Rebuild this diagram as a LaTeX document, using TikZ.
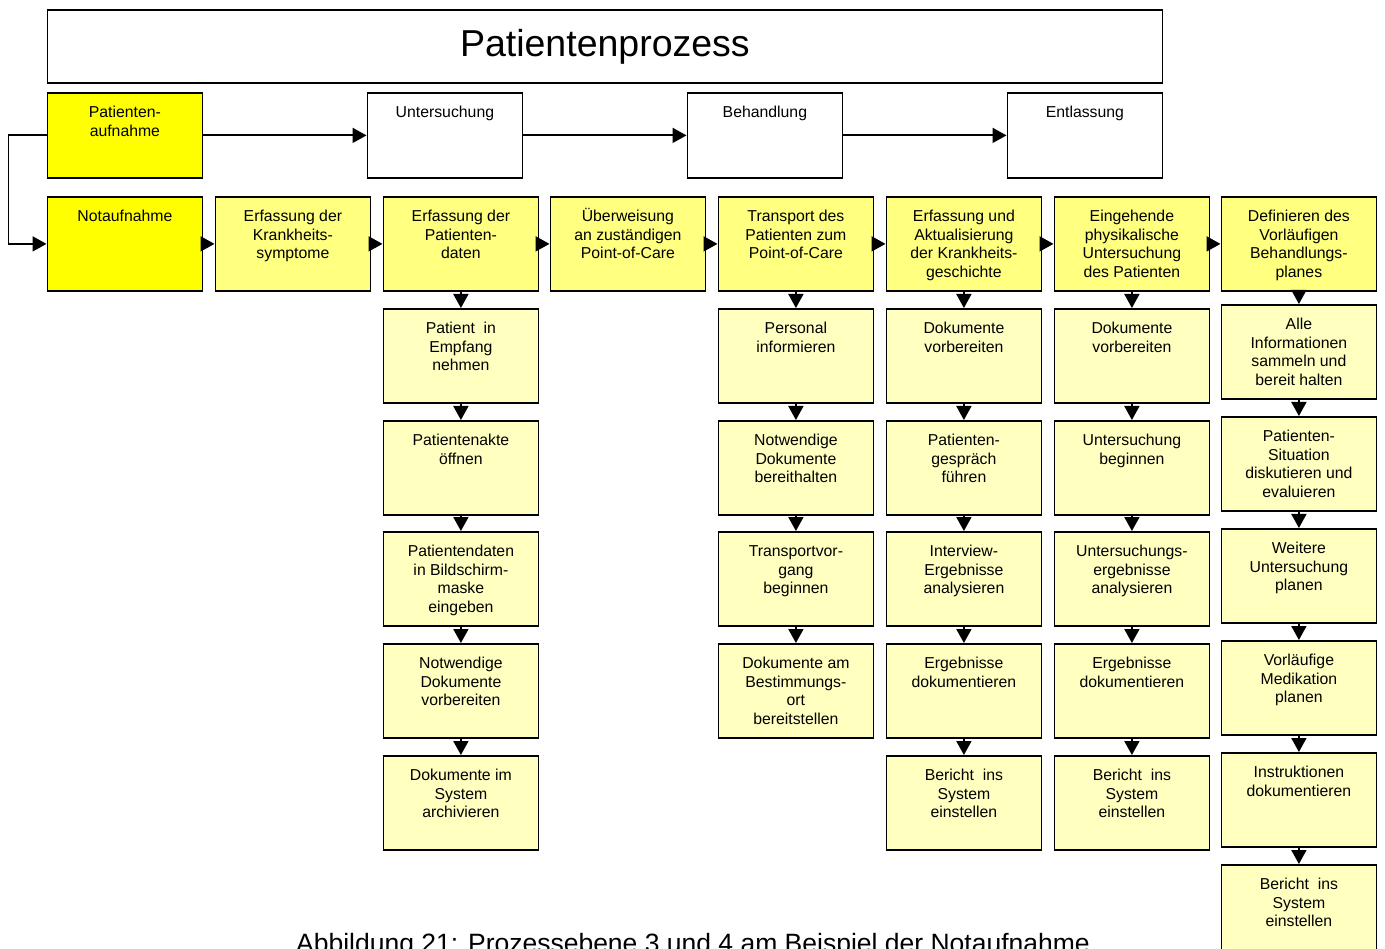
\documentclass[tikz,border=0pt]{standalone}
\usepackage{fontspec}
\setmainfont{Liberation Sans}
\usetikzlibrary{arrows.meta}
\newcommand\bx[2][94]{\parbox[c][#1pt][t]{155pt}{\centering\vspace*{10pt}\rule{0pt}{15pt}#2}}
\definecolor{yA}{RGB}{255,255,0}
\definecolor{yB}{RGB}{255,255,128}
\definecolor{yC}{RGB}{255,255,192}
\begin{document}
\begin{tikzpicture}[x=1pt,y=-1pt,
  box/.style={draw=black, line width=1.8pt, inner sep=0pt, anchor=north west, font=\fontsize{15.8}{18.5}\selectfont},
  head/.style={box, fill=white},
  main/.style={box, fill=yA},
  lvl/.style={box, fill=yB},
  sub/.style={box, fill=yC},
  arr/.style={line width=1.8pt, -{Triangle[length=14pt,width=15pt]}}]
\useasboundingbox (0,0) rectangle (1385,949);
% title
\node[draw=black, line width=1.8pt, anchor=north west, minimum width=1115pt, minimum height=73pt, inner sep=0pt, font=\fontsize{37.5}{40}\selectfont] (title) at (46.5,9) {Patientenprozess};
% row 1
\node[main] (r1a) at (46.5,92) {\bx[85]{Patienten-\\aufnahme}};
\node[head] (r1b) at (366.5,92) {\bx[85]{Untersuchung}};
\node[head] (r1c) at (686.5,92) {\bx[85]{Behandlung}};
\node[head] (r1d) at (1006.5,92) {\bx[85]{Entlassung}};
% row 2
\node[main] (r2a) at (46.5,196) {\bx{Notaufnahme}};
\node[lvl] (r2b) at (214.5,196) {\bx{Erfassung der\\Krankheits-\\symptome}};
\node[lvl] (r2c) at (382.5,196) {\bx{Erfassung der\\Patienten-\\daten}};
\node[lvl] (r2d) at (549.5,196) {\bx{Überweisung\\an zuständigen\\Point-of-Care}};
\node[lvl] (r2e) at (717.5,196) {\bx{Transport des\\Patienten zum\\Point-of-Care}};
\node[lvl] (r2f) at (885.5,196) {\bx{Erfassung und\\Aktualisierung\\der Krankheits-\\geschichte}};
\node[lvl] (r2g) at (1053.5,196) {\bx{Eingehende\\physikalische\\Untersuchung\\des Patienten}};
\node[lvl] (r2h) at (1220.5,196) {\bx{Definieren des\\Vorläufigen\\Behandlungs-\\planes}};
% column 3
\node[sub] (c3a) at (382.5,308) {\bx{Patient\ \ in\\Empfang\\nehmen}};
\node[sub] (c3b) at (382.5,420) {\bx{Patientenakte\\öffnen}};
\node[sub] (c3c) at (382.5,531) {\bx{Patientendaten\\in Bildschirm-\\maske\\eingeben}};
\node[sub] (c3d) at (382.5,643) {\bx{Notwendige\\Dokumente\\vorbereiten}};
\node[sub] (c3e) at (382.5,755) {\bx{Dokumente im\\System\\archivieren}};
% column 5
\node[sub] (c5a) at (717.5,308) {\bx{Personal\\informieren}};
\node[sub] (c5b) at (717.5,420) {\bx{Notwendige\\Dokumente\\bereithalten}};
\node[sub] (c5c) at (717.5,531) {\bx{Transportvor-\\gang\\beginnen}};
\node[sub] (c5d) at (717.5,643) {\bx{Dokumente am\\Bestimmungs-\\ort\\bereitstellen}};
% column 6
\node[sub] (c6a) at (885.5,308) {\bx{Dokumente\\vorbereiten}};
\node[sub] (c6b) at (885.5,420) {\bx{Patienten-\\gespräch\\führen}};
\node[sub] (c6c) at (885.5,531) {\bx{Interview-\\Ergebnisse\\analysieren}};
\node[sub] (c6d) at (885.5,643) {\bx{Ergebnisse\\dokumentieren}};
\node[sub] (c6e) at (885.5,755) {\bx{Bericht\ \ ins\\System\\einstellen}};
% column 7
\node[sub] (c7a) at (1053.5,308) {\bx{Dokumente\\vorbereiten}};
\node[sub] (c7b) at (1053.5,420) {\bx{Untersuchung\\beginnen}};
\node[sub] (c7c) at (1053.5,531) {\bx{Untersuchungs-\\ergebnisse\\analysieren}};
\node[sub] (c7d) at (1053.5,643) {\bx{Ergebnisse\\dokumentieren}};
\node[sub] (c7e) at (1053.5,755) {\bx{Bericht\ \ ins\\System\\einstellen}};
% column 8
\node[sub] (c8a) at (1220.5,304) {\bx{Alle\\Informationen\\sammeln und\\bereit halten}};
\node[sub] (c8b) at (1220.5,416) {\bx{Patienten-\\Situation\\diskutieren und\\evaluieren}};
\node[sub] (c8c) at (1220.5,528) {\bx{Weitere\\Untersuchung\\planen}};
\node[sub] (c8d) at (1220.5,640) {\bx{Vorläufige\\Medikation\\planen}};
\node[sub] (c8e) at (1220.5,752) {\bx{Instruktionen\\dokumentieren}};
\node[sub] (c8f) at (1220.5,864) {\bx{Bericht\ \ ins\\System\\einstellen}};
% caption
\node[anchor=base, inner sep=0pt, font=\fontsize{26.5}{30}\selectfont] (cap) at (693,952) {Abbildung 21: Prozessebene 3 und 4 am Beispiel der Notaufnahme};
% connectors row 1
\draw[arr] (r1a.east) -- (r1b.west);
\draw[arr] (r1b.east) -- (r1c.west);
\draw[arr] (r1c.east) -- (r1d.west);
\draw[arr] (r1a.west) -- ++(-38,0) |- (r2a.west);
% connectors row 2
\foreach \a/\b in {r2a/r2b,r2b/r2c,r2c/r2d,r2d/r2e,r2e/r2f,r2f/r2g,r2g/r2h}
  \draw[arr] (\a.east) -- (\b.west);
% vertical connectors
\foreach \a/\b in {r2c/c3a,c3a/c3b,c3b/c3c,c3c/c3d,c3d/c3e,
                   r2e/c5a,c5a/c5b,c5b/c5c,c5c/c5d,
                   r2f/c6a,c6a/c6b,c6b/c6c,c6c/c6d,c6d/c6e,
                   r2g/c7a,c7a/c7b,c7b/c7c,c7c/c7d,c7d/c7e,
                   r2h/c8a,c8a/c8b,c8b/c8c,c8c/c8d,c8d/c8e,c8e/c8f}
  \draw[arr] (\a.south) -- (\b.north);
\end{tikzpicture}
\end{document}
